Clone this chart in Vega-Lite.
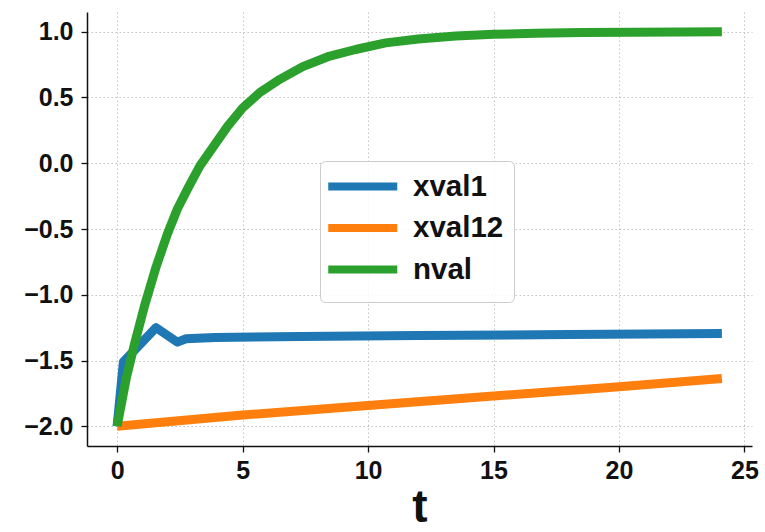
{
  "$schema": "https://vega.github.io/schema/vega-lite/v6.json",
  "width": 665,
  "height": 434,
  "autosize": {"type": "none"},
  "padding": {"left": 87, "top": 12, "right": 13, "bottom": 86},
  "background": "white",
  "config": {
    "view": {"stroke": null},
    "font": "Liberation Sans",
    "axis": {
      "labelFont": "Liberation Sans",
      "labelFontWeight": "bold",
      "labelFontSize": 25,
      "labelColor": "#111111",
      "domainColor": "#111111",
      "domainWidth": 1.5,
      "tickColor": "#111111",
      "tickWidth": 1.3,
      "tickSize": 6,
      "gridColor": "#c4c4c4",
      "gridDash": [1.5, 2.5],
      "gridWidth": 1,
      "titleFont": "Liberation Sans",
      "titleFontWeight": "bold",
      "titleColor": "#111111"
    }
  },
  "data": {
    "values": [
      {"t": 0, "series": "xval1", "value": -2.0},
      {"t": 0.25, "series": "xval1", "value": -1.51},
      {"t": 1.55, "series": "xval1", "value": -1.25},
      {"t": 2.4, "series": "xval1", "value": -1.36},
      {"t": 2.75, "series": "xval1", "value": -1.335},
      {"t": 3.9, "series": "xval1", "value": -1.325},
      {"t": 7.3, "series": "xval1", "value": -1.318},
      {"t": 12, "series": "xval1", "value": -1.31},
      {"t": 18, "series": "xval1", "value": -1.302},
      {"t": 24.1, "series": "xval1", "value": -1.295},
      {"t": 0, "series": "xval12", "value": -2.0},
      {"t": 5, "series": "xval12", "value": -1.915},
      {"t": 10, "series": "xval12", "value": -1.842},
      {"t": 15, "series": "xval12", "value": -1.77},
      {"t": 20, "series": "xval12", "value": -1.70},
      {"t": 24.1, "series": "xval12", "value": -1.637},
      {"t": 0, "series": "nval", "value": -2.0},
      {"t": 0.37, "series": "nval", "value": -1.63},
      {"t": 0.7, "series": "nval", "value": -1.37},
      {"t": 1.1, "series": "nval", "value": -1.079},
      {"t": 1.55, "series": "nval", "value": -0.79},
      {"t": 2.0, "series": "nval", "value": -0.54},
      {"t": 2.4, "series": "nval", "value": -0.348},
      {"t": 2.85, "series": "nval", "value": -0.18},
      {"t": 3.3, "series": "nval", "value": -0.02},
      {"t": 3.85, "series": "nval", "value": 0.13},
      {"t": 4.4, "series": "nval", "value": 0.28},
      {"t": 5.0, "series": "nval", "value": 0.42},
      {"t": 5.7, "series": "nval", "value": 0.54},
      {"t": 6.5, "series": "nval", "value": 0.64},
      {"t": 7.4, "series": "nval", "value": 0.735},
      {"t": 8.4, "series": "nval", "value": 0.81},
      {"t": 9.5, "series": "nval", "value": 0.865},
      {"t": 10.7, "series": "nval", "value": 0.915},
      {"t": 12.0, "series": "nval", "value": 0.945},
      {"t": 13.5, "series": "nval", "value": 0.967},
      {"t": 15.0, "series": "nval", "value": 0.98},
      {"t": 16.7, "series": "nval", "value": 0.9885},
      {"t": 18.5, "series": "nval", "value": 0.9937},
      {"t": 20.5, "series": "nval", "value": 0.9968},
      {"t": 22.5, "series": "nval", "value": 0.9983},
      {"t": 24.1, "series": "nval", "value": 0.999}
    ]
  },
  "mark": {"type": "line", "strokeWidth": 9, "strokeJoin": "round", "strokeCap": "butt"},
  "encoding": {
    "x": {
      "field": "t",
      "type": "quantitative",
      "scale": {"domain": [-1.2, 25.3], "nice": false, "zero": false},
      "axis": {
        "title": "t",
        "titleFontSize": 46,
        "titlePadding": 2,
        "values": [0, 5, 10, 15, 20, 25],
        "format": "d",
        "labelPadding": 6,
        "grid": true
      }
    },
    "y": {
      "field": "value",
      "type": "quantitative",
      "scale": {"domain": [-2.15, 1.15], "nice": false, "zero": false},
      "axis": {
        "title": null,
        "values": [-2, -1.5, -1, -0.5, 0, 0.5, 1],
        "format": ".1f",
        "labelPadding": 8,
        "grid": true
      }
    },
    "color": {
      "field": "series",
      "type": "nominal",
      "scale": {"domain": ["xval1", "xval12", "nval"], "range": ["#1f77b4", "#ff7f0e", "#2ca02c"]},
      "legend": {
        "title": " ",
        "titleOrient": "bottom",
        "titleFontSize": 2,
        "titlePadding": 4,
        "orient": "none",
        "legendX": 233,
        "legendY": 149,
        "symbolType": "M-1.5,0H4.5",
        "symbolSize": 529,
        "symbolStrokeWidth": 8,
        "labelFont": "Liberation Sans",
        "labelFontWeight": "bold",
        "labelFontSize": 29.5,
        "labelColor": "#111111",
        "labelOffset": 52,
        "rowPadding": 8.5,
        "padding": 10,
        "fillColor": "rgba(255,255,255,0.85)",
        "strokeColor": "#cccccc",
        "cornerRadius": 5
      }
    }
  }
}
